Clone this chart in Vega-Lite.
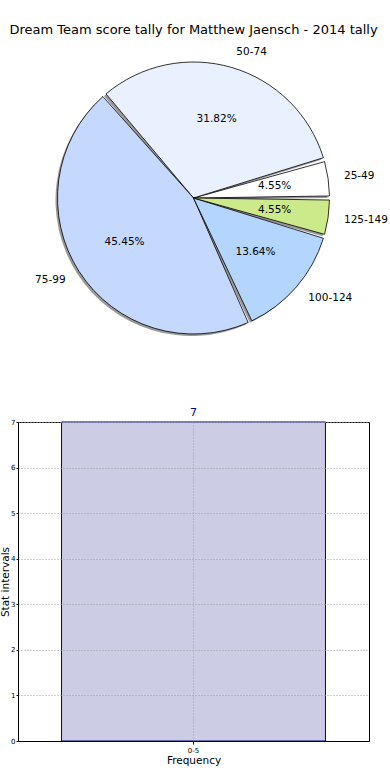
{
  "$schema": "https://vega.github.io/schema/vega-lite/v6.json",
  "padding": {"left": 0, "top": 24, "right": 0, "bottom": 0},
  "background": "white",
  "config": {"font": "DejaVu Sans", "view": {"stroke": null}},
  "spacing": 49,
  "vconcat": [
    {
      "width": 351,
      "height": 318,
      "title": {"text": "Dream Team score tally for Matthew Jaensch - 2014 tally", "fontSize": 13, "fontWeight": "normal", "font": "DejaVu Sans", "anchor": "middle", "offset": 2, "color": "black"},
      "data": {"values": [
        {"range": "25-49", "games": 1, "idx": 1, "pct": "4.55%"},
        {"range": "50-74", "games": 7, "idx": 2, "pct": "31.82%"},
        {"range": "75-99", "games": 10, "idx": 3, "pct": "45.45%"},
        {"range": "100-124", "games": 3, "idx": 4, "pct": "13.64%"},
        {"range": "125-149", "games": 1, "idx": 5, "pct": "4.55%"}
      ]},
      "encoding": {
        "theta": {"field": "games", "type": "quantitative", "stack": true, "scale": {"range": [1.5708, 7.854]}},
        "order": {"field": "idx", "type": "quantitative", "sort": "descending"}
      },
      "layer": [
        {
          "mark": {"type": "arc", "radius": 136, "padAngle": 0.03, "fill": "#555555", "opacity": 0.6, "xOffset": -2, "yOffset": 2}
        },
        {
          "mark": {"type": "arc", "radius": 136, "padAngle": 0.03, "stroke": "black", "strokeWidth": 0.8},
          "encoding": {
            "color": {"field": "range", "type": "nominal", "legend": null,
              "scale": {"domain": ["25-49", "50-74", "75-99", "100-124", "125-149"],
                        "range": ["#ffffff", "#e9f0fe", "#c5d8fe", "#b3d5fe", "#cdea8a"]}}
          }
        },
        {
          "mark": {"type": "text", "radius": 82, "fontSize": 10.5, "color": "black"},
          "encoding": {"text": {"field": "pct"}}
        },
        {
          "mark": {"type": "text", "radius": 152, "fontSize": 10.5, "color": "black",
                   "align": {"expr": "datum.range == '75-99' ? 'right' : 'left'"}},
          "encoding": {"text": {"field": "range"}}
        }
      ]
    },
    {
      "width": 351,
      "height": 319,
      "view": {"stroke": "black", "strokeWidth": 1},
      "data": {"values": [{"interval": "0-5", "frequency": 7}]},
      "encoding": {
        "x": {"field": "interval", "type": "nominal",
              "scale": {"paddingInner": 0, "paddingOuter": 0.165},
              "axis": {"title": "Frequency", "titleFontSize": 10.5, "titleFontWeight": "normal", "titlePadding": 2,
                       "labelFontSize": 7, "labelAngle": 0, "labelPadding": 2, "tickSize": 3,
                       "grid": true, "gridDash": [1, 2], "gridColor": "#a0a0a0", "gridOpacity": 1,
                       "domainColor": "black", "tickColor": "black", "zindex": 1}},
        "y": {"field": "frequency", "type": "quantitative",
              "scale": {"domain": [0, 7], "nice": false},
              "axis": {"title": "Stat intervals", "titleFontSize": 10.5, "titleFontWeight": "normal", "titlePadding": 0,
                       "values": [0, 1, 2, 3, 4, 5, 6, 7], "labelFontSize": 7, "labelPadding": 1, "tickSize": 2,
                       "grid": true, "gridDash": [1, 2], "gridColor": "#a0a0a0", "gridOpacity": 1,
                       "domainColor": "black", "tickColor": "black", "zindex": 1}}
      },
      "layer": [
        {"mark": {"type": "bar", "fill": "#ccccE5", "stroke": "#000080", "strokeWidth": 1}},
        {"mark": {"type": "text", "dy": -9, "fontSize": 11, "color": "#000080"},
         "encoding": {"text": {"field": "frequency"}}}
      ]
    }
  ]
}
